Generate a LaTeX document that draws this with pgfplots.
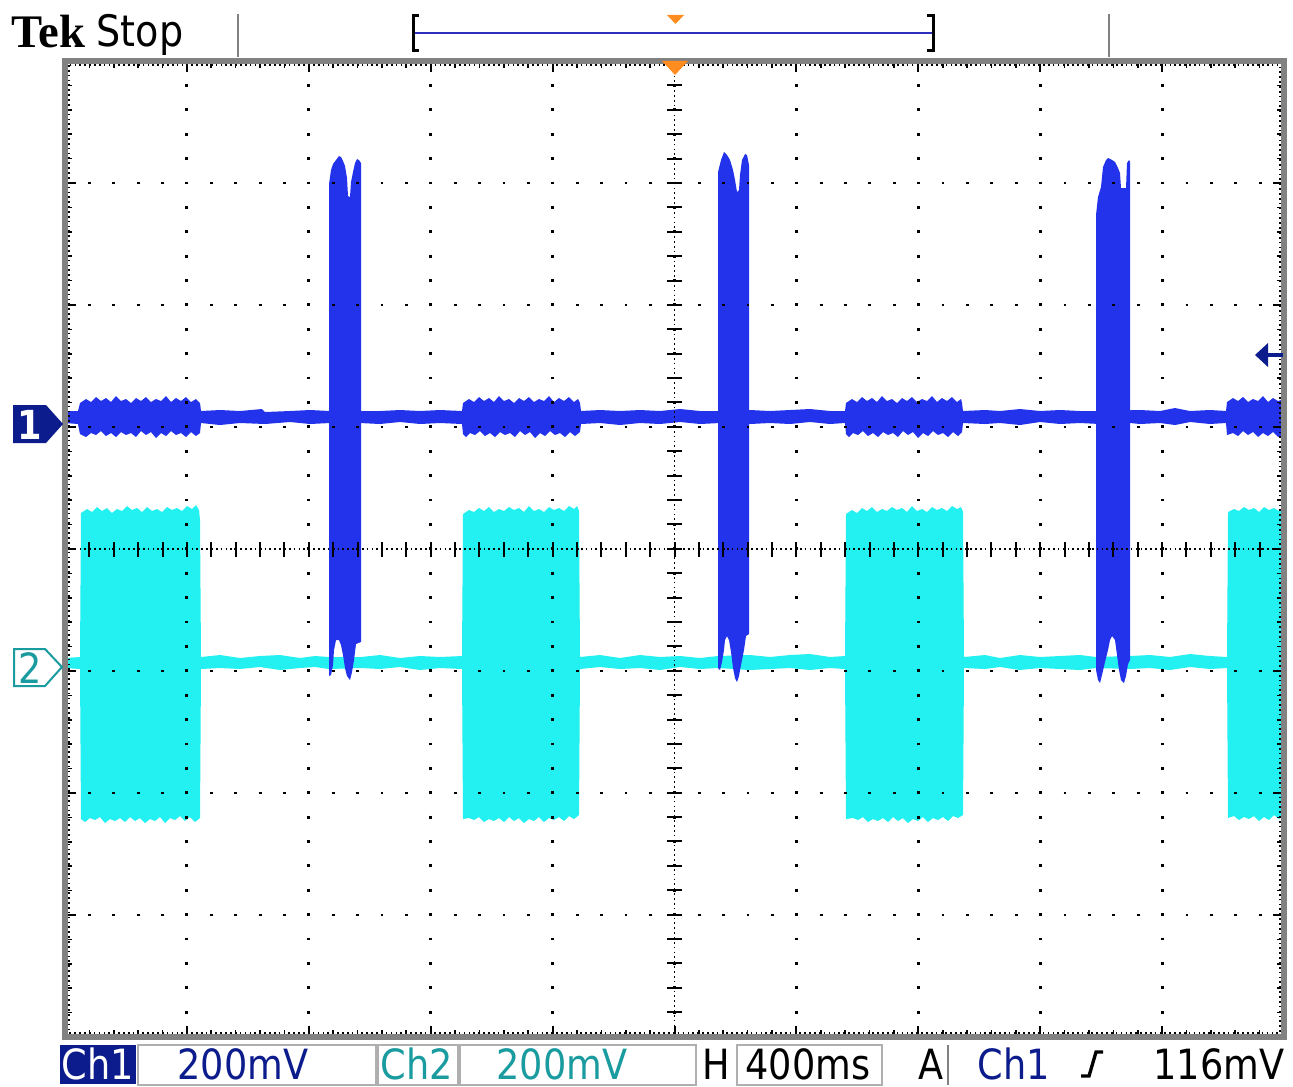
\documentclass[border=0pt]{standalone}
\usepackage{pgfplots}
\pgfplotsset{compat=1.18}
\usepackage{fontspec}
\newfontfamily\scopefont[FakeStretch=0.88]{DejaVu Sans}
\newfontfamily\tekfont{Liberation Serif}
\definecolor{chA}{RGB}{35,50,235}
\definecolor{chB}{RGB}{35,240,240}
\definecolor{navy}{RGB}{12,28,140}
\definecolor{tealtxt}{RGB}{25,155,160}
\definecolor{framecol}{RGB}{130,130,130}
\definecolor{boxline}{RGB}{175,175,175}
\definecolor{trig}{RGB}{255,140,30}
\definecolor{bracketblue}{RGB}{45,45,190}
\begin{document}
\begin{tikzpicture}
\useasboundingbox (0,0) rectangle (387.9pt,-326.1pt);
\begin{axis}[
  at={(202.35pt,-164.7pt)}, anchor=center,
  scale only axis, width=365.7pt, height=292.8pt,
  xmin=65, xmax=1284, ymin=61, ymax=1037, y dir=reverse,
  axis on top,
  xtick={65,186.9,308.8,430.7,552.6,674.5,796.4,918.3,1040.2,1162.1,1284},
  ytick={61,183,305,427,549,671,793,915,1037},
  xticklabels={}, yticklabels={},
  minor x tick num=4, minor y tick num=4,
  major tick length=3.3pt, minor tick length=2pt,
  major tick style={black, line width=0.6pt},
  minor tick style={black, line width=0.5pt},
  grid=major,
  major grid style={black, line width=0.85pt, dash pattern=on 0.85pt off 6.467pt, dash phase=0.425pt},
  axis line style={framecol, line width=1.8pt},
]
% ---- Channel 2 (cyan) ----
\addplot[fill=chB, draw=none] coordinates {
(65,658) (80,657)
(81,513) (87,509) (92,512) (97,507) (102,511) (107,508) (112,513) (117,509) (122,511) (127,506) (132,510) (137,508) (142,512) (147,507) (152,511) (157,509) (162,512) (167,507) (172,510) (177,508) (182,511) (187,506) (192,509) (196,505) (199,510) (200,520)
(201,657) (220,655) (240,658) (260,656) (280,655) (300,658) (315,656) (329,657) (361,657) (380,655) (400,658) (420,656) (440,657) (462,656)
(463,514) (469,510) (474,512) (479,508) (484,511) (489,507) (494,512) (499,509) (504,511) (509,507) (514,510) (519,508) (524,512) (529,506) (534,511) (539,509) (544,512) (549,507) (554,510) (559,508) (564,511) (569,506) (574,509) (577,506) (579,511)
(580,657) (600,655) (620,658) (640,655) (660,657) (680,656) (700,658) (718,656) (750,655) (770,657) (790,655) (810,654) (830,657) (845,656)
(846,514) (852,510) (857,513) (862,508) (867,511) (872,507) (877,512) (882,509) (887,511) (892,507) (897,510) (902,508) (907,512) (912,506) (917,511) (922,509) (927,512) (932,507) (937,510) (942,508) (947,511) (952,506) (957,509) (961,507) (963,512)
(964,657) (985,655) (1000,658) (1020,655) (1040,657) (1060,656) (1080,655) (1096,657) (1130,656) (1150,655) (1170,657) (1190,654) (1210,656) (1227,657)
(1228,512) (1234,509) (1239,511) (1244,507) (1249,510) (1254,508) (1259,512) (1264,507) (1269,510) (1274,508) (1279,511) (1284,509)
(1284,816) (1279,819) (1274,815) (1269,820) (1264,817) (1259,821) (1254,816) (1249,819) (1244,817) (1239,820) (1234,816) (1228,818)
(1227,668) (1210,669) (1190,667) (1170,670) (1150,668) (1130,669) (1096,668) (1080,670) (1060,669) (1040,668) (1020,670) (1000,667) (985,669) (964,668)
(963,815) (958,818) (953,816) (948,821) (943,817) (938,820) (933,818) (928,822) (923,817) (918,821) (913,819) (908,823) (903,818) (898,821) (893,817) (888,822) (883,818) (878,821) (873,819) (868,822) (863,817) (858,820) (853,818) (846,819)
(845,669) (830,668) (810,670) (790,668) (770,669) (750,670) (718,668) (700,669) (680,667) (660,670) (640,668) (620,669) (600,667) (580,669)
(579,815) (574,819) (569,816) (564,821) (559,817) (554,820) (549,818) (544,822) (539,817) (534,821) (529,819) (524,823) (519,818) (514,821) (509,817) (504,822) (499,818) (494,821) (489,819) (484,822) (479,817) (474,820) (469,818) (463,819)
(462,669) (440,668) (420,670) (400,667) (380,669) (361,668) (329,669) (315,667) (300,668) (280,670) (260,667) (240,669) (220,668) (201,669)
(200,818) (195,822) (190,817) (185,821) (180,816) (175,820) (170,818) (165,823) (160,817) (155,821) (150,819) (145,823) (140,818) (135,821) (130,817) (125,822) (120,818) (115,821) (110,819) (105,823) (100,817) (95,820) (90,818) (85,822) (81,819)
(80,669) (65,668)
};
% ---- Channel 1 (blue) baseline ----
\addplot[fill=chA, draw=none] coordinates {
(65,411) (78,411)
(80,403) (86,399) (91,402) (96,397) (101,401) (106,398) (111,402) (116,396) (121,401) (126,399) (131,403) (136,398) (141,401) (146,397) (151,402) (156,399) (161,401) (166,396) (171,402) (176,398) (181,401) (186,397) (191,402) (196,399) (200,403)
(201,411) (220,410) (240,411) (262,409) (265,412) (290,411) (310,410) (330,411) (360,411) (380,411) (400,410) (420,411) (440,410) (462,411)
(463,403) (469,399) (474,402) (479,397) (484,401) (489,398) (494,402) (499,396) (504,401) (509,399) (514,403) (519,398) (524,401) (529,397) (534,402) (539,399) (544,401) (549,396) (554,402) (559,398) (564,401) (569,397) (574,402) (578,399) (580,403)
(581,411) (600,410) (620,411) (640,410) (660,411) (680,409) (700,411) (720,411) (750,410) (770,411) (790,410) (810,409) (830,411) (845,411)
(846,403) (852,399) (857,402) (862,397) (867,401) (872,398) (877,402) (882,396) (887,401) (892,399) (897,403) (902,398) (907,401) (912,397) (917,402) (922,399) (927,401) (932,396) (937,402) (942,398) (947,401) (952,397) (957,402) (961,399) (962,403)
(963,411) (985,410) (1000,411) (1020,409) (1040,411) (1060,410) (1080,411) (1100,411) (1140,410) (1160,411) (1175,408) (1190,411) (1210,410) (1226,411)
(1227,402) (1233,398) (1238,401) (1243,397) (1248,402) (1253,399) (1258,401) (1263,396) (1268,402) (1273,398) (1278,401) (1284,399)
(1284,434) (1278,437) (1273,432) (1268,436) (1263,433) (1258,437) (1253,432) (1248,435) (1243,431) (1238,436) (1233,433) (1227,435)
(1226,423) (1210,424) (1190,422) (1175,425) (1160,423) (1140,424) (1120,422) (1100,424) (1080,423) (1060,424) (1040,422) (1020,425) (1000,423) (985,424) (963,423)
(962,432) (958,436) (953,432) (948,437) (943,433) (938,435) (933,431) (928,436) (923,433) (918,438) (913,432) (908,435) (903,431) (898,437) (893,433) (888,435) (883,432) (878,437) (873,433) (868,436) (863,431) (858,435) (853,433) (849,437) (846,434)
(845,423) (830,424) (810,422) (790,424) (770,423) (750,424) (720,423) (700,424) (680,422) (660,424) (640,423) (620,425) (600,423) (581,424)
(580,432) (575,436) (570,432) (565,437) (560,433) (555,435) (550,431) (545,436) (540,433) (535,438) (530,432) (525,435) (520,431) (515,437) (510,433) (505,435) (500,432) (495,437) (490,433) (485,436) (480,431) (475,435) (470,433) (466,437) (463,434)
(462,424) (440,423) (420,424) (400,422) (380,424) (360,423) (330,423) (310,424) (290,422) (265,424) (240,423) (220,425) (201,423)
(200,433) (196,436) (191,432) (186,437) (181,433) (176,435) (171,431) (166,436) (161,433) (156,438) (151,432) (146,435) (141,431) (136,437) (131,433) (126,435) (121,432) (116,437) (111,433) (106,436) (101,431) (96,435) (91,433) (86,437) (80,434)
(78,424) (65,423)
};
% ---- Channel 1 bursts ----
\addplot[fill=chA, draw=none] coordinates {
(329,676) (329,184) (331,170) (333,164) (336,160) (339,156) (341,157) (343,161) (345,166) (347,178) (348,196) (350,197) (351,182) (353,172) (355,163) (357,159) (359,160) (361,163)
(361,642) (356,644) (354,660) (352,672) (350,680) (347,676) (345,668) (343,655) (341,645) (339,640) (336,640) (334,650) (333,665) (331,675)
};
\addplot[fill=chA, draw=none] coordinates {
(718,668) (718,172) (721,160) (724,152) (727,155) (730,160) (733,170) (735,180) (737,192) (739,190) (740,175) (742,160) (745,154) (747,155) (749,165)
(749,634) (746,636) (744,650) (741,665) (739,676) (737,682) (735,678) (733,668) (731,652) (729,640) (727,636) (725,640) (724,650) (722,662) (720,670)
};
\addplot[fill=chA, draw=none] coordinates {
(1096,670) (1096,215) (1098,197) (1101,187) (1103,167) (1106,160) (1108,158) (1112,160) (1115,162) (1118,168) (1120,173) (1121,188) (1126,188) (1127,163) (1129,160) (1130,162)
(1130,660) (1128,664) (1126,676) (1124,683) (1121,680) (1119,670) (1117,655) (1115,640) (1112,636) (1110,640) (1108,650) (1105,662) (1102,675) (1100,683) (1098,680)
};
% ---- graticule centre lines ----
\draw[black, line width=0.5pt, dash pattern=on 0.5pt off 0.96pt] (axis cs:674.5,61) -- (axis cs:674.5,1037);
\draw[black, line width=4.5pt, dash pattern=on 0.6pt off 6.717pt, dash phase=0.3pt] (axis cs:674.5,61) -- (axis cs:674.5,1037);
\draw[black, line width=0.5pt, dash pattern=on 0.5pt off 0.96pt] (axis cs:65,549) -- (axis cs:1284,549);
\draw[black, line width=4.5pt, dash pattern=on 0.6pt off 6.714pt, dash phase=0.3pt] (axis cs:65,549) -- (axis cs:1284,549);
\end{axis}
\begin{scope}[x=0.3pt, y=-0.3pt]
% inner dense dotted frame
\draw[black, line width=0.5pt, dash pattern=on 0.5pt off 0.96pt] (69,65) rectangle (1280,1033);
% header
\node[anchor=base west, inner sep=0, font=\tekfont\bfseries\fontsize{14}{14}\selectfont] at (11,48) {Tek};
\node[anchor=base west, inner sep=0, font=\scopefont\fontsize{13}{13}\selectfont] at (96,47) {Stop};
\draw[framecol, line width=0.6pt] (238,14) -- (238,57);
\draw[framecol, line width=0.6pt] (1109,14) -- (1109,57);
\draw[bracketblue, line width=0.6pt] (413,33) -- (933,33);
\draw[black, line width=0.9pt] (419,16) -- (413,16) -- (413,51) -- (419,51);
\draw[black, line width=0.9pt] (927,16) -- (933,16) -- (933,51) -- (927,51);
\fill[trig] (667,15) -- (684,15) -- (675.5,24) -- cycle;
\fill[trig] (662,61) -- (688,61) -- (675,75) -- cycle;
% channel markers
\fill[navy] (13,405) -- (46,405) -- (63,424) -- (46,443) -- (13,443) -- cycle;
\node[text=white, inner sep=0, font=\scopefont\bfseries\fontsize{12}{12}\selectfont] at (30,425) {1};
\draw[tealtxt, line width=0.6pt, fill=white] (14,649) -- (45,649) -- (62,667) -- (45,686) -- (14,686) -- cycle;
\node[text=tealtxt, inner sep=0, font=\scopefont\fontsize{12.5}{12.5}\selectfont] at (30,668) {2};
% reference arrow on the right
\fill[navy] (1255,355) -- (1268,343) -- (1268,367) -- cycle;
\draw[navy, line width=1.2pt] (1266,355) -- (1283,355);
% bottom readout
\fill[navy] (60,1045) rectangle (136,1084);
\draw[boxline, line width=0.6pt] (138,1045) rectangle (376,1085);
\draw[boxline, line width=0.6pt] (378,1045) rectangle (458,1085);
\draw[boxline, line width=0.6pt] (460,1045) rectangle (696,1085);
\draw[boxline, line width=0.6pt] (737,1045) rectangle (882,1085);
\draw[framecol, line width=0.6pt] (948,1045) -- (948,1085);
\begin{scope}[every node/.style={inner sep=0, font=\scopefont\fontsize{12.5}{12.5}\selectfont}]
\node[text=white] at (98,1064) {Ch1};
\node[text=navy] at (243,1064) {200mV};
\node[text=tealtxt] at (417,1064) {Ch2};
\node[text=tealtxt] at (562,1064) {200mV};
\node[text=black] at (716,1064) {H};
\node[text=black] at (808,1064) {400ms};
\node[text=black] at (931,1064) {A};
\node[text=navy] at (1014,1064) {Ch1};
\node[text=black] at (1219,1064) {116mV};
\end{scope}
\draw[black, line width=1pt] (1081,1076) -- (1089,1076) -- (1096,1052) -- (1103,1052);
\end{scope}
\end{tikzpicture}
\end{document}
